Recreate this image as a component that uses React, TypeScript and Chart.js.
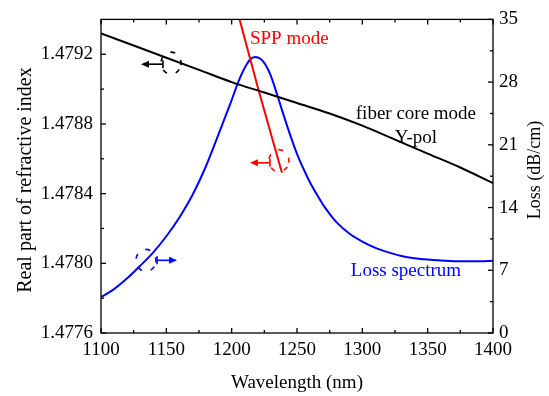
import React, { useEffect, useRef } from "react";
import { Chart, registerables } from "chart.js";

Chart.register(...registerables);

// ---- data ----
const WL_CORE = [1100, 1125, 1150, 1175, 1200, 1225, 1250, 1275, 1300, 1325, 1350, 1375, 1400];
const N_CORE = [1.47932, 1.47925, 1.47918, 1.47911, 1.47904, 1.47898, 1.47892, 1.47886, 1.47879, 1.47871, 1.47863, 1.47855, 1.47846];

const WL_SPP = [1202.5, 1220, 1238.5];
const N_SPP = [1.4795, 1.47901, 1.47852];

const WL_LOSS = [1100, 1110, 1120, 1130, 1140, 1150, 1160, 1170, 1180, 1190, 1200, 1205, 1210, 1214, 1218, 1222, 1226, 1230, 1235, 1240, 1245, 1250, 1255, 1260, 1265, 1270, 1275, 1280, 1290, 1300, 1310, 1320, 1330, 1340, 1350, 1360, 1375, 1390, 1400];
const LOSS = [4.0, 4.9, 6.1, 7.5, 9.0, 10.8, 12.9, 15.4, 18.5, 22.2, 26.0, 28.0, 29.6, 30.5, 30.8, 30.6, 29.9, 28.7, 26.5, 24.2, 22.0, 20.0, 18.3, 16.8, 15.5, 14.3, 13.3, 12.4, 11.1, 10.2, 9.5, 9.0, 8.6, 8.35, 8.2, 8.1, 8.0, 8.0, 8.05];

const X_TICKS = [1100, 1150, 1200, 1250, 1300, 1350, 1400];
const N_TICKS = [1.4776, 1.478, 1.4784, 1.4788, 1.4792];
const LOSS_TICKS = [0, 7, 14, 21, 28, 35];
const X_RANGE = [1100, 1400];
const N_RANGE = [1.4776, 1.4794];
const LOSS_RANGE = [0, 35];

// text labels anchored in data units
const TEXT_LABELS = [
  { text: "SPP mode", x: 1214, y: 1.479257, axis: "y", color: "#ff0000", align: "left" },
  { text: "fiber core mode", x: 1341, y: 1.478829, axis: "y", color: "#000000", align: "center" },
  { text: "Y-pol", x: 1341, y: 1.478691, axis: "y", color: "#000000", align: "center" },
  { text: "Loss spectrum", x: 1333.4, y: 6.33, axis: "y1", color: "#0000ff", align: "center" },
];

// axis-pointer markers anchored in data units
const MARKERS = [
  { axis: "y", cx: 1153.6, cy: 1.479149, tail: 1147.4, head: 1130.6, ay: 1.479143, color: "#000000" },
  { axis: "y", cx: 1236.2, cy: 1.478589, tail: 1229.3, head: 1214, ay: 1.478577, color: "#ff0000" },
  { axis: "y1", cx: 1134.4, cy: 8.1, tail: 1142.9, head: 1158.2, ay: 8.11, color: "#0000ff" },
];

const FONT = '"Liberation Serif", "Times New Roman", serif';

const framePlugin = {
  id: "frameAndExtras",
  afterDraw(chart: any) {
    const ctx = chart.ctx as CanvasRenderingContext2D;
    const { left, right, top, bottom } = chart.chartArea;
    const xs = chart.scales.x;
    const ys = chart.scales.y;
    const y1 = chart.scales.y1;
    ctx.save();
    ctx.strokeStyle = "#000";
    ctx.lineWidth = 1.3;
    ctx.setLineDash([]);
    ctx.strokeRect(left, top, right - left, bottom - top);

    const line = (x1: number, yA: number, x2: number, yB: number) => {
      ctx.beginPath();
      ctx.moveTo(x1, yA);
      ctx.lineTo(x2, yB);
      ctx.stroke();
    };
    const mids = (arr: number[]) => arr.slice(0, -1).map((v, i) => (v + arr[i + 1]) / 2);

    // x ticks (bottom and top, inward)
    X_TICKS.forEach((v) => {
      const p = xs.getPixelForValue(v);
      line(p, bottom, p, bottom - 5);
      line(p, top, p, top + 5);
    });
    mids(X_TICKS).forEach((v) => {
      const p = xs.getPixelForValue(v);
      line(p, bottom, p, bottom - 3);
      line(p, top, p, top + 3);
    });
    // left ticks
    N_TICKS.forEach((v) => {
      const p = ys.getPixelForValue(v);
      line(left, p, left + 5, p);
    });
    mids(N_TICKS).forEach((v) => {
      const p = ys.getPixelForValue(v);
      line(left, p, left + 3, p);
    });
    // right ticks
    LOSS_TICKS.forEach((v) => {
      const p = y1.getPixelForValue(v);
      line(right, p, right - 5, p);
    });
    mids(LOSS_TICKS).forEach((v) => {
      const p = y1.getPixelForValue(v);
      line(right, p, right - 3, p);
    });

    // axis titles (y)
    ctx.fillStyle = "#000";
    ctx.textBaseline = "alphabetic";
    ctx.textAlign = "center";
    ctx.font = `20px ${FONT}`;
    ctx.save();
    ctx.translate(31, 180);
    ctx.rotate(-Math.PI / 2);
    ctx.fillText("Real part of refractive index", 0, 0);
    ctx.restore();
    ctx.font = `18px ${FONT}`;
    ctx.save();
    ctx.translate(540, 170);
    ctx.rotate(-Math.PI / 2);
    ctx.fillText("Loss (dB/cm)", 0, 0);
    ctx.restore();

    // text labels
    ctx.font = `19px ${FONT}`;
    TEXT_LABELS.forEach((l) => {
      const sc = chart.scales[l.axis];
      ctx.fillStyle = l.color;
      ctx.textAlign = l.align as CanvasTextAlign;
      ctx.fillText(l.text, xs.getPixelForValue(l.x), sc.getPixelForValue(l.y));
    });

    // markers
    MARKERS.forEach((m) => {
      const sc = chart.scales[m.axis];
      const cx = xs.getPixelForValue(m.cx);
      const cy = sc.getPixelForValue(m.cy);
      const tx = xs.getPixelForValue(m.tail);
      const hx = xs.getPixelForValue(m.head);
      const ay = sc.getPixelForValue(m.ay);
      ctx.strokeStyle = m.color;
      ctx.fillStyle = m.color;
      ctx.lineWidth = 1.6;
      ctx.setLineDash([5, 9]);
      ctx.beginPath();
      ctx.ellipse(cx, cy, 10, 11, 0, 0.6, 0.6 + Math.PI * 2);
      ctx.stroke();
      ctx.setLineDash([]);
      line(tx, ay - 4, tx, ay + 4);
      const dir = Math.sign(hx - tx);
      line(tx, ay, hx - dir * 6, ay);
      ctx.beginPath();
      ctx.moveTo(hx, ay);
      ctx.lineTo(hx - dir * 8, ay - 3.5);
      ctx.lineTo(hx - dir * 8, ay + 3.5);
      ctx.closePath();
      ctx.fill();
    });
    ctx.restore();
  },
};

export default function App() {
  const ref = useRef<HTMLCanvasElement>(null);
  useEffect(() => {
    const tickFont = { family: FONT, size: 19 };
    const chart = new Chart(ref.current!, {
      type: "line",
      data: {
        datasets: [
          {
            label: "fiber core mode",
            data: WL_CORE.map((x, i) => ({ x, y: N_CORE[i] })),
            borderColor: "#000000",
            borderWidth: 2,
            pointRadius: 0,
            cubicInterpolationMode: "monotone",
            yAxisID: "y",
          },
          {
            label: "SPP mode",
            data: WL_SPP.map((x, i) => ({ x, y: N_SPP[i] })),
            borderColor: "#ff0000",
            borderWidth: 2,
            pointRadius: 0,
            cubicInterpolationMode: "monotone",
            yAxisID: "y",
          },
          {
            label: "Loss spectrum",
            data: WL_LOSS.map((x, i) => ({ x, y: LOSS[i] })),
            borderColor: "#0000ff",
            borderWidth: 2,
            pointRadius: 0,
            cubicInterpolationMode: "monotone",
            yAxisID: "y1",
          },
        ],
      },
      options: {
        animation: false,
        responsive: false,
        devicePixelRatio: 1,
        layout: { padding: { top: 18, left: 0, right: 0, bottom: 0 } },
        plugins: { legend: { display: false }, tooltip: { enabled: false } },
        scales: {
          x: {
            type: "linear",
            position: "bottom",
            min: X_RANGE[0],
            max: X_RANGE[1],
            afterFit: (s: any) => { s.height = 63; },
            afterBuildTicks: (s: any) => { s.ticks = X_TICKS.map((v) => ({ value: v })); },
            grid: { display: false, drawTicks: false },
            border: { display: false },
            ticks: { color: "#000", font: tickFont, padding: 6, maxRotation: 0, autoSkip: false, callback: (v: any) => String(v) },
            title: { display: true, text: "Wavelength (nm)", color: "#000", font: { family: FONT, size: 19 }, padding: { top: 0, bottom: 1.4 } },
          },
          y: {
            type: "linear",
            position: "left",
            min: N_RANGE[0],
            max: N_RANGE[1],
            afterFit: (s: any) => { s.width = 101; },
            afterBuildTicks: (s: any) => { s.ticks = N_TICKS.map((v) => ({ value: v })); },
            grid: { display: false, drawTicks: false },
            border: { display: false },
            ticks: { color: "#000", font: tickFont, padding: 8, autoSkip: false, callback: (v: any) => Number(v).toFixed(4) },
          },
          y1: {
            type: "linear",
            position: "right",
            min: LOSS_RANGE[0],
            max: LOSS_RANGE[1],
            afterFit: (s: any) => { s.width = 56; },
            afterBuildTicks: (s: any) => { s.ticks = LOSS_TICKS.map((v) => ({ value: v })); },
            grid: { display: false, drawTicks: false },
            border: { display: false },
            ticks: { color: "#000", font: tickFont, padding: 6, autoSkip: false, callback: (v: any) => String(v) },
          },
        },
      },
      plugins: [framePlugin],
    } as any);
    return () => chart.destroy();
  }, []);
  return (
    <div style={{ position: "fixed", left: 0, top: 0, width: 549, height: 396, background: "#fff" }}>
      <canvas ref={ref} width={549} height={396} style={{ width: 549, height: 396, display: "block" }} />
    </div>
  );
}
